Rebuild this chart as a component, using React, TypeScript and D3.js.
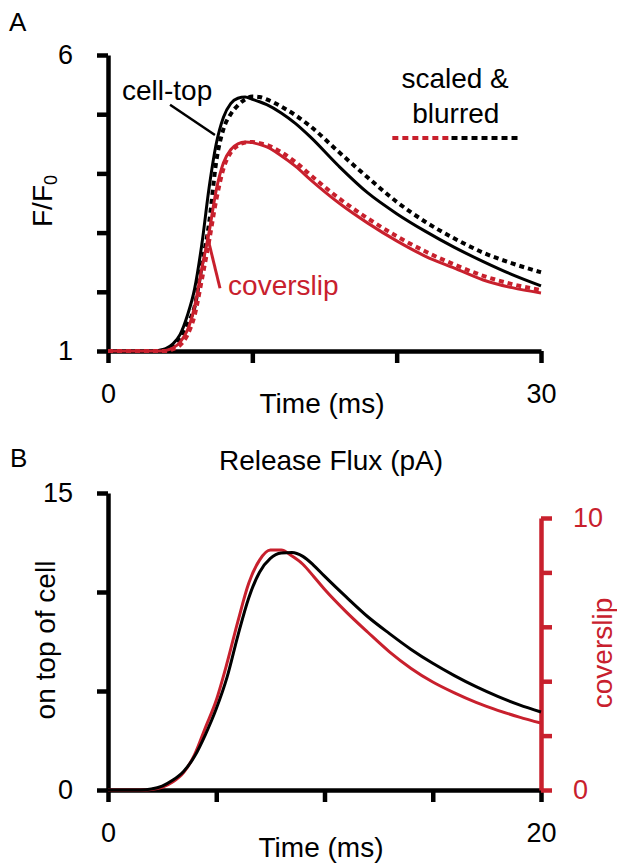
import * as d3 from "d3";
import { useEffect, useRef } from "react";

// Panel A: F/F0 transients (time in ms)
const timeA = [0, 2, 3, 3.5, 4, 4.5, 5, 5.5, 6, 6.5, 7, 7.5, 8, 8.5, 9, 9.5, 10, 10.5, 11, 12, 13, 14, 16, 18, 20, 22, 24, 26, 28, 30];
const cellTop = [1, 1, 1, 1.01, 1.04, 1.12, 1.28, 1.6, 2.05, 2.8, 3.75, 4.5, 4.95, 5.18, 5.27, 5.29, 5.25, 5.21, 5.16, 5.02, 4.84, 4.62, 4.12, 3.67, 3.32, 3.02, 2.75, 2.51, 2.29, 2.1];
const cellTopBlurred = [1, 1, 1, 1, 1.02, 1.08, 1.2, 1.45, 1.75, 2.45, 3.15, 4.2, 4.75, 5.0, 5.15, 5.25, 5.3, 5.29, 5.25, 5.13, 4.98, 4.8, 4.36, 3.93, 3.52, 3.18, 2.9, 2.66, 2.48, 2.33];
const coverslip = [1, 1, 1, 1, 1.01, 1.05, 1.15, 1.35, 1.75, 2.4, 3.0, 3.72, 4.18, 4.4, 4.5, 4.53, 4.52, 4.49, 4.45, 4.3, 4.12, 3.9, 3.5, 3.16, 2.86, 2.6, 2.4, 2.2, 2.07, 1.98];
const coverslipBlurred = [1, 1, 1, 1, 1, 1.03, 1.1, 1.27, 1.6, 2.2, 2.85, 3.55, 4.08, 4.35, 4.47, 4.52, 4.53, 4.51, 4.48, 4.36, 4.19, 3.98, 3.58, 3.24, 2.94, 2.68, 2.46, 2.27, 2.13, 2.03];

// Panel B: release flux (pA)
const timeB = [0, 1, 1.5, 2, 2.5, 3, 3.5, 4, 4.5, 5, 5.5, 6, 6.5, 7, 7.5, 8, 8.5, 9, 9.5, 10, 11, 12, 13, 14, 15, 16, 17, 18, 19, 20];
const fluxCellTop = [0, 0, 0, 0.05, 0.2, 0.5, 0.95, 1.7, 2.8, 4.1, 5.7, 7.8, 9.7, 11.0, 11.7, 11.97, 12.0, 11.8, 11.35, 10.8, 9.75, 8.75, 7.9, 7.1, 6.4, 5.78, 5.22, 4.73, 4.3, 3.94];
const fluxCoverslip = [0, 0, 0, 0.02, 0.1, 0.3, 0.65, 1.3, 2.3, 3.3, 4.67, 6.2, 7.6, 8.45, 8.82, 8.82, 8.6, 8.3, 7.85, 7.38, 6.55, 5.8, 5.08, 4.47, 3.97, 3.57, 3.22, 2.93, 2.68, 2.46];

const ticksA_y = [1, 2, 3, 4, 5, 6];
const ticksA_x = [0, 10, 20, 30];
const ticksB_left = [0, 5, 10, 15];
const ticksB_right = [0, 2, 4, 6, 8, 10];
const ticksB_x = [0, 5, 10, 15, 20];

const RED = "#c8202d";
const FONT = "'Liberation Sans', Arial, Helvetica, sans-serif";

function App() {
  const ref = useRef(null);

  useEffect(() => {
    const svg = d3.select(ref.current);
    svg.selectAll("*").remove();
    svg.style("font-family", FONT);

    const styleAxis = (g, color, size) => {
      g.select(".domain").attr("stroke", color).attr("stroke-width", 4.5);
      g.selectAll(".tick line").attr("stroke", color).attr("stroke-width", 4.5);
      g.selectAll(".tick text")
        .attr("fill", color)
        .style("font-size", `${size}px`)
        .style("font-family", FONT);
    };
    const ends = (vals) => (d) => (d === vals[0] || d === vals[vals.length - 1] ? String(d) : "");

    // ---------------- panel A ----------------
    const xA = d3.scaleLinear().domain([0, 30]).range([108, 541]);
    const yA = d3.scaleLinear().domain([1, 6]).range([351, 55]);

    svg.append("text").attr("x", 9).attr("y", 31).text("A").style("font-size", "26px");

    const axA_x = svg
      .append("g")
      .attr("transform", `translate(0,${yA(1)})`)
      .call(d3.axisBottom(xA).tickValues(ticksA_x).tickSize(12).tickSizeOuter(0).tickPadding(21).tickFormat(ends(ticksA_x)));
    styleAxis(axA_x, "#000", 27);

    const axA_y = svg
      .append("g")
      .attr("transform", `translate(${xA(0)},0)`)
      .call(d3.axisLeft(yA).tickValues(ticksA_y).tickSize(11).tickSizeOuter(0).tickPadding(24).tickFormat(ends(ticksA_y)));
    styleAxis(axA_y, "#000", 27);

    svg.append("text").attr("x", 322).attr("y", 413).attr("text-anchor", "middle").style("font-size", "28px").text("Time (ms)");

    const ylabA = svg
      .append("text")
      .attr("transform", "translate(52,201) rotate(-90)")
      .attr("text-anchor", "middle")
      .style("font-size", "28px");
    ylabA.append("tspan").text("F/F");
    ylabA.append("tspan").attr("dy", 5).style("font-size", "18px").text("0");

    const lineA = (vals) =>
      d3
        .line()
        .x((d, i) => xA(timeA[i]))
        .y((d) => yA(d))
        .curve(d3.curveMonotoneX)(vals);

    const seriesA = [
      { vals: cellTop, color: "#000", dash: null, w: 3 },
      { vals: cellTopBlurred, color: "#000", dash: "5,4", w: 4 },
      { vals: coverslip, color: RED, dash: null, w: 3 },
      { vals: coverslipBlurred, color: RED, dash: "5,4", w: 4 },
    ];
    svg
      .append("g")
      .selectAll("path")
      .data(seriesA)
      .join("path")
      .attr("d", (d) => lineA(d.vals))
      .attr("fill", "none")
      .attr("stroke", (d) => d.color)
      .attr("stroke-width", (d) => d.w)
      .attr("stroke-dasharray", (d) => d.dash);

    // annotations
    svg.append("text").attr("x", xA(0.97)).attr("y", yA(5.24)).style("font-size", "28px").text("cell-top");
    svg
      .append("line")
      .attr("x1", xA(4.3)).attr("y1", yA(5.16))
      .attr("x2", xA(7.41)).attr("y2", yA(4.65))
      .attr("stroke", "#000").attr("stroke-width", 2.5);
    svg.append("text").attr("x", xA(8.32)).attr("y", yA(1.95)).attr("fill", RED).style("font-size", "28px").text("coverslip");
    svg
      .append("line")
      .attr("x1", xA(6.86)).attr("y1", yA(2.96))
      .attr("x2", xA(7.76)).attr("y2", yA(2.06))
      .attr("stroke", RED).attr("stroke-width", 3);

    // legend
    svg.append("text").attr("x", xA(24.05)).attr("y", yA(5.44)).attr("text-anchor", "middle").style("font-size", "28px").text("scaled &");
    svg.append("text").attr("x", xA(24.1)).attr("y", yA(4.85)).attr("text-anchor", "middle").style("font-size", "28px").text("blurred");
    svg.append("line")
      .attr("x1", xA(19.7)).attr("x2", xA(23.7)).attr("y1", yA(4.6)).attr("y2", yA(4.6))
      .attr("stroke", RED).attr("stroke-width", 4).attr("stroke-dasharray", "6,4");
    svg.append("line")
      .attr("x1", xA(23.8)).attr("x2", xA(28.6)).attr("y1", yA(4.6)).attr("y2", yA(4.6))
      .attr("stroke", "#000").attr("stroke-width", 4).attr("stroke-dasharray", "6,4");

    // ---------------- panel B ----------------
    const xB = d3.scaleLinear().domain([0, 20]).range([108, 541]);
    const yBL = d3.scaleLinear().domain([0, 15]).range([790, 493]);
    const yBR = d3.scaleLinear().domain([0, 10]).range([790, 518]);

    svg.append("text").attr("x", 10).attr("y", 467).text("B").style("font-size", "26px");
    svg.append("text").attr("x", 331).attr("y", 470).attr("text-anchor", "middle").style("font-size", "28px").text("Release Flux (pA)");

    const axB_x = svg
      .append("g")
      .attr("transform", `translate(0,${yBL(0)})`)
      .call(d3.axisBottom(xB).tickValues(ticksB_x).tickSize(12).tickSizeOuter(0).tickPadding(21).tickFormat(ends(ticksB_x)));
    styleAxis(axB_x, "#000", 27);

    const axB_l = svg
      .append("g")
      .attr("transform", `translate(${xB(0)},0)`)
      .call(d3.axisLeft(yBL).tickValues(ticksB_left).tickSize(11).tickSizeOuter(0).tickPadding(24).tickFormat(ends(ticksB_left)));
    styleAxis(axB_l, "#000", 27);

    const axB_r = svg
      .append("g")
      .attr("transform", `translate(${xB(20)},0)`)
      .call(d3.axisRight(yBR).tickValues(ticksB_right).tickSize(11).tickSizeOuter(0).tickPadding(21).tickFormat(ends(ticksB_right)));
    styleAxis(axB_r, RED, 27);

    svg.append("text").attr("x", 321).attr("y", 857).attr("text-anchor", "middle").style("font-size", "28px").text("Time (ms)");
    svg
      .append("text")
      .attr("transform", "translate(55,640) rotate(-90)")
      .attr("text-anchor", "middle")
      .style("font-size", "28px")
      .text("on top of cell");
    svg
      .append("text")
      .attr("transform", "translate(612,653) rotate(-90)")
      .attr("text-anchor", "middle")
      .attr("fill", RED)
      .style("font-size", "28px")
      .text("coverslip");

    const lineB = (vals, y) =>
      d3
        .line()
        .x((d, i) => xB(timeB[i]))
        .y((d) => y(d))
        .curve(d3.curveMonotoneX)(vals);

    svg.append("path").attr("d", lineB(fluxCoverslip, yBR)).attr("fill", "none").attr("stroke", RED).attr("stroke-width", 3);
    svg.append("path").attr("d", lineB(fluxCellTop, yBL)).attr("fill", "none").attr("stroke", "#000").attr("stroke-width", 3);
  }, []);

  return (
    <svg
      ref={ref}
      width={617}
      height={866}
      style={{ position: "absolute", left: 0, top: 0, background: "#fff" }}
    />
  );
}

export default App;
